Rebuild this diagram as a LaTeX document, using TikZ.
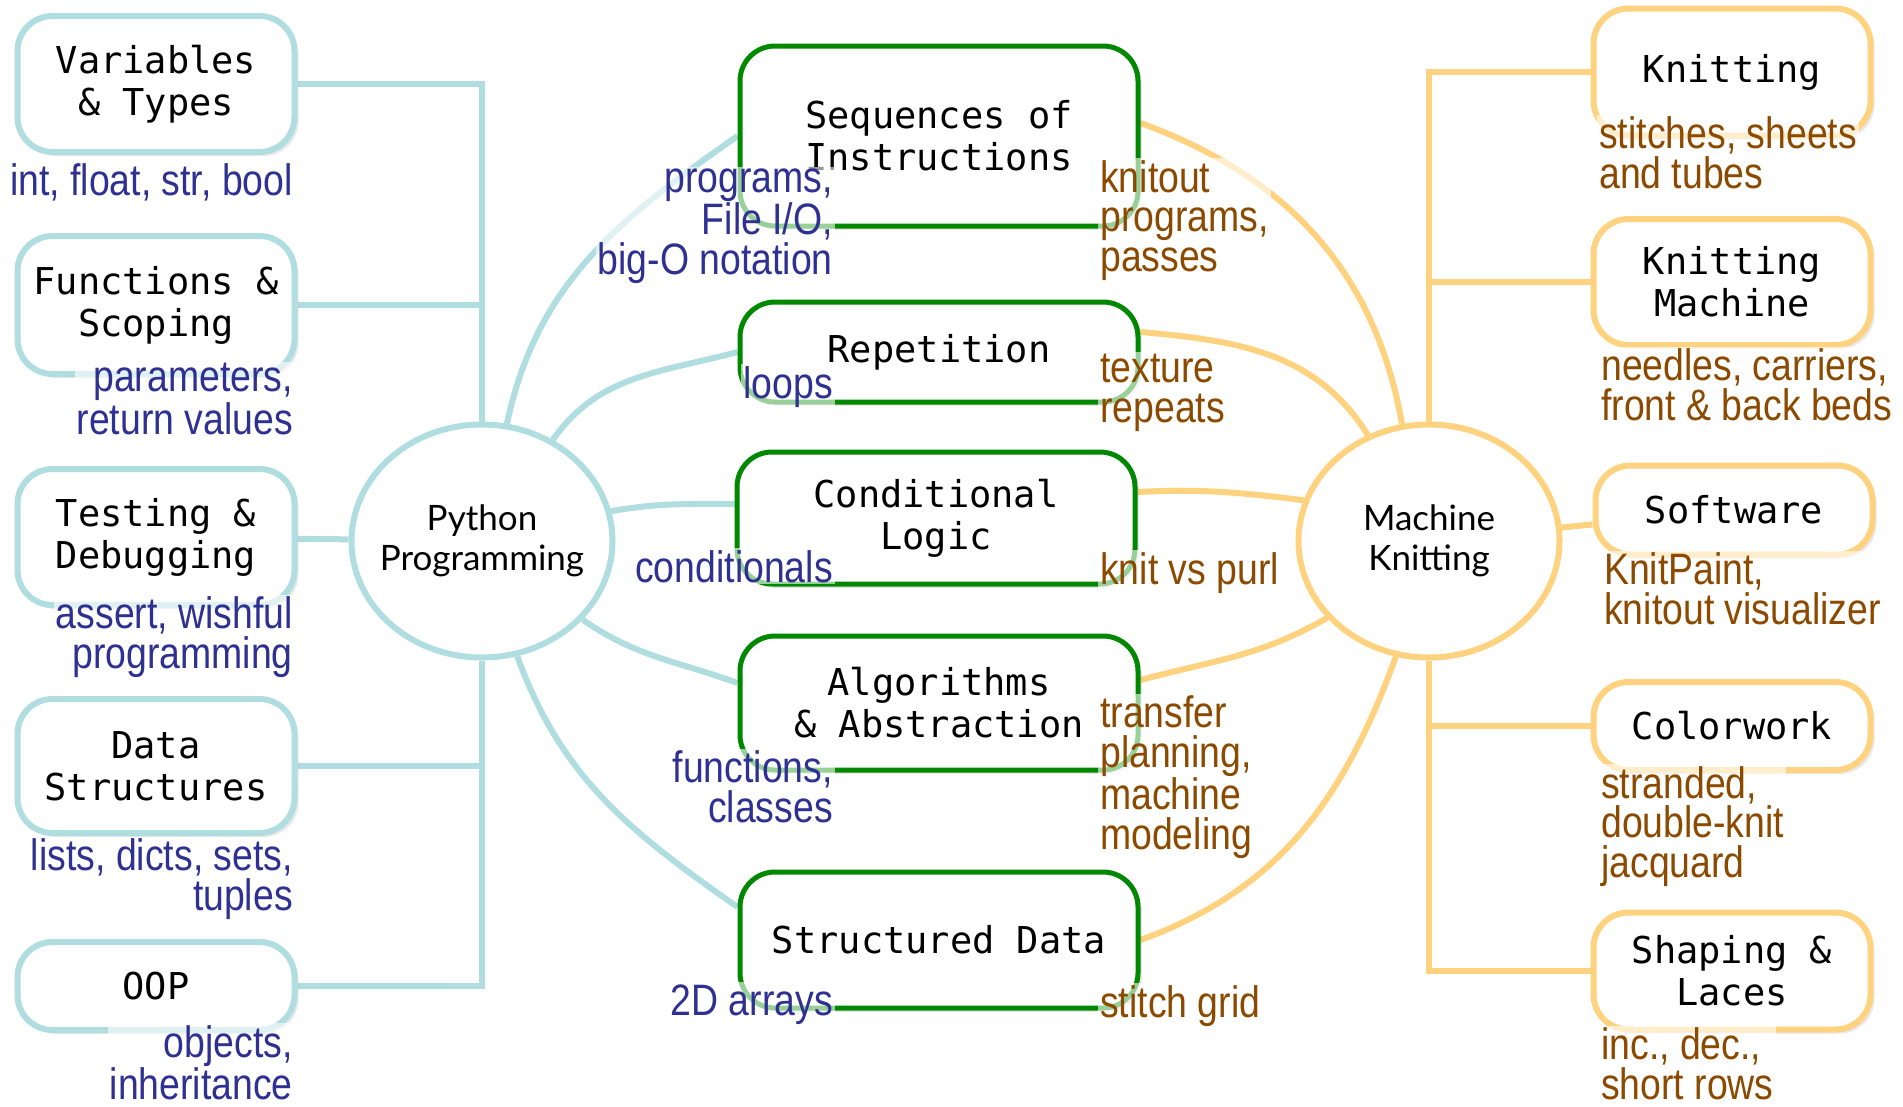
\documentclass[tikz,border=0pt]{standalone}
\usepackage{fontspec}
\usetikzlibrary{shapes.geometric,shadows,backgrounds}
\newfontfamily\boxfont{DejaVu Sans Mono}
\newfontfamily\hubfont{Lato}
\newfontfamily\notefont[FakeStretch=0.85]{Liberation Sans}
\definecolor{pyteal}{HTML}{B0DDE0}
\definecolor{mkgold}{HTML}{FFD27F}
\definecolor{topicgreen}{HTML}{008800}
\definecolor{pyblue}{HTML}{2E3192}
\definecolor{mkbrown}{HTML}{8C4A00}
\begin{document}
\begin{tikzpicture}[x=1pt, y=1pt,
    box/.style={rectangle, rounded corners=35pt, fill=white, line width=6pt, align=center,
      font=\boxfont\fontsize{37}{42}\selectfont,
      drop shadow={shadow xshift=4pt, shadow yshift=-4pt, opacity=0.18}},
    pybox/.style={box, draw=pyteal, minimum width=277pt},
    mkbox/.style={box, draw=mkgold, minimum width=277pt},
    topic/.style={box, draw=topicgreen, line width=5pt, minimum width=398pt},
    hub/.style={ellipse, fill=white, line width=6pt, align=center, inner xsep=-30pt, inner ysep=0pt,
      minimum width=261pt, minimum height=233pt, font=\hubfont\fontsize{35}{40}\selectfont},
    note/.style={font=\notefont\fontsize{44}{39.5}\selectfont, fill=white, fill opacity=0.6,
      text opacity=1, inner sep=2pt},
    pynote/.style={note, text=pyblue, align=right, anchor=base east},
    mknote/.style={note, text=mkbrown, align=left, anchor=base west},
    pylink/.style={draw=pyteal, line width=6pt},
    mklink/.style={draw=mkgold, line width=6pt}]
  \useasboundingbox (0,0) rectangle (1903,-1106);

  % the two hubs
  \node[hub, draw=pyteal] (py) at (482,-541) {Python\\Programming};
  \node[hub, draw=mkgold] (mk) at (1429,-541) {Machine\\Knitting};

  % python topics
  \node[pybox, minimum height=136pt] (vars) at (156,-84) {Variables\\\& Types};
  \node[pybox, minimum height=138pt] (funcs) at (156,-305) {Functions \&\\Scoping};
  \node[pybox, minimum height=136pt] (tests) at (156,-537) {Testing \&\\Debugging};
  \node[pybox, minimum height=134pt] (data) at (156,-766) {Data\\Structures};
  \node[pybox, minimum height=88pt] (oop) at (156,-986) {OOP};

  % shared ideas
  \node[topic, minimum height=180pt] (seq) at (939,-136) {Sequences of\\Instructions};
  \node[topic, minimum height=100pt] (rep) at (939,-352) {Repetition};
  \node[topic, minimum height=132pt] (cond) at (936,-518) {Conditional\\Logic};
  \node[topic, minimum height=134pt] (alg) at (939,-703) {Algorithms\\\& Abstraction};
  \node[topic, minimum height=136pt] (struct) at (939,-940) {Structured Data};

  % knitting topics
  \node[mkbox, minimum height=127pt] (knit) at (1732,-72) {Knitting};
  \node[mkbox, minimum height=126pt] (machine) at (1732,-282) {Knitting\\Machine};
  \node[mkbox, minimum height=89pt] (soft) at (1734,-510) {Software};
  \node[mkbox, minimum height=88pt] (color) at (1732,-726) {Colorwork};
  \node[mkbox, minimum height=117pt] (shape) at (1732,-971) {Shaping \&\\Laces};

  \begin{scope}[on background layer]
    \draw[pylink] (vars) -| (py);
    \draw[pylink] (funcs) -| (py);
    \draw[pylink] (tests) -- (py);
    \draw[pylink] (data) -| (py);
    \draw[pylink] (oop) -| (py);
    \draw[pylink] (py.78) to[out=78, in=215] (seq.west);
    \draw[pylink] (py.55) to[out=55, in=195] (rep.west);
    \draw[pylink] (py.13) to[out=10, in=180] ([yshift=14pt]cond.west);
    \draw[pylink] (py.-38) to[out=-35, in=160] ([yshift=20pt]alg.west);
    \draw[pylink] (py.-73) to[out=-70, in=145] ([yshift=33pt]struct.west);
    \draw[mklink] (knit) -| (mk);
    \draw[mklink] (machine) -| (mk);
    \draw[mklink] (soft) -- (mk);
    \draw[mklink] (color) -| (mk);
    \draw[mklink] (shape) -| (mk);
    \draw[mklink] ([yshift=13pt]seq.east) to[out=-20, in=100] (mk.103);
    \draw[mklink] ([yshift=20pt]rep.east) to[out=-5, in=122] (mk.120);
    \draw[mklink] ([yshift=26pt]cond.east) to[out=3, in=173] (mk.162);
    \draw[mklink] ([yshift=23pt]alg.east) to[out=15, in=210] (mk.217);
    \draw[mklink] (struct.east) to[out=20, in=250] (mk.254);
  \end{scope}

  % notes: base anchor sits on the last line
  \node[pynote] (varsnote) at (295,-195) {int, float, str, bool};
  \node[pynote] (funcsnote) at (295,-434) {parameters,\\return values};
  \node[pynote] (testsnote) at (295,-668) {assert, wishful\\programming};
  \node[pynote] (datanote) at (295,-910) {lists, dicts, sets,\\tuples};
  \node[pynote] (oopnote) at (295,-1099) {objects,\\inheritance};

  \node[pynote] (seqpy) at (835,-274) {programs,\\File I/O,\\big-O notation};
  \node[pynote] (reppy) at (835,-398) {loops};
  \node[pynote] (condpy) at (835,-582) {conditionals};
  \node[pynote] (algpy) at (835,-822) {functions,\\classes};
  \node[pynote] (structpy) at (835,-1015) {2D arrays};

  \node[mknote] (seqmk) at (1098,-271) {knitout\\programs,\\passes};
  \node[mknote] (repmk) at (1098,-422) {texture\\repeats};
  \node[mknote] (condmk) at (1098,-584) {knit vs purl};
  \node[mknote] (algmk) at (1098,-849) {transfer\\planning,\\machine\\modeling};
  \node[mknote] (structmk) at (1098,-1017) {stitch grid};

  \node[mknote] (knitnote) at (1597,-188) {stitches, sheets\\and tubes};
  \node[mknote] (machinenote) at (1599,-420) {needles, carriers,\\front \& back beds};
  \node[mknote] (softnote) at (1602,-624) {KnitPaint,\\knitout visualizer};
  \node[mknote] (colornote) at (1599,-877) {stranded,\\double-knit\\jacquard};
  \node[mknote] (shapenote) at (1599,-1099) {inc., dec.,\\short rows};
\end{tikzpicture}
\end{document}
